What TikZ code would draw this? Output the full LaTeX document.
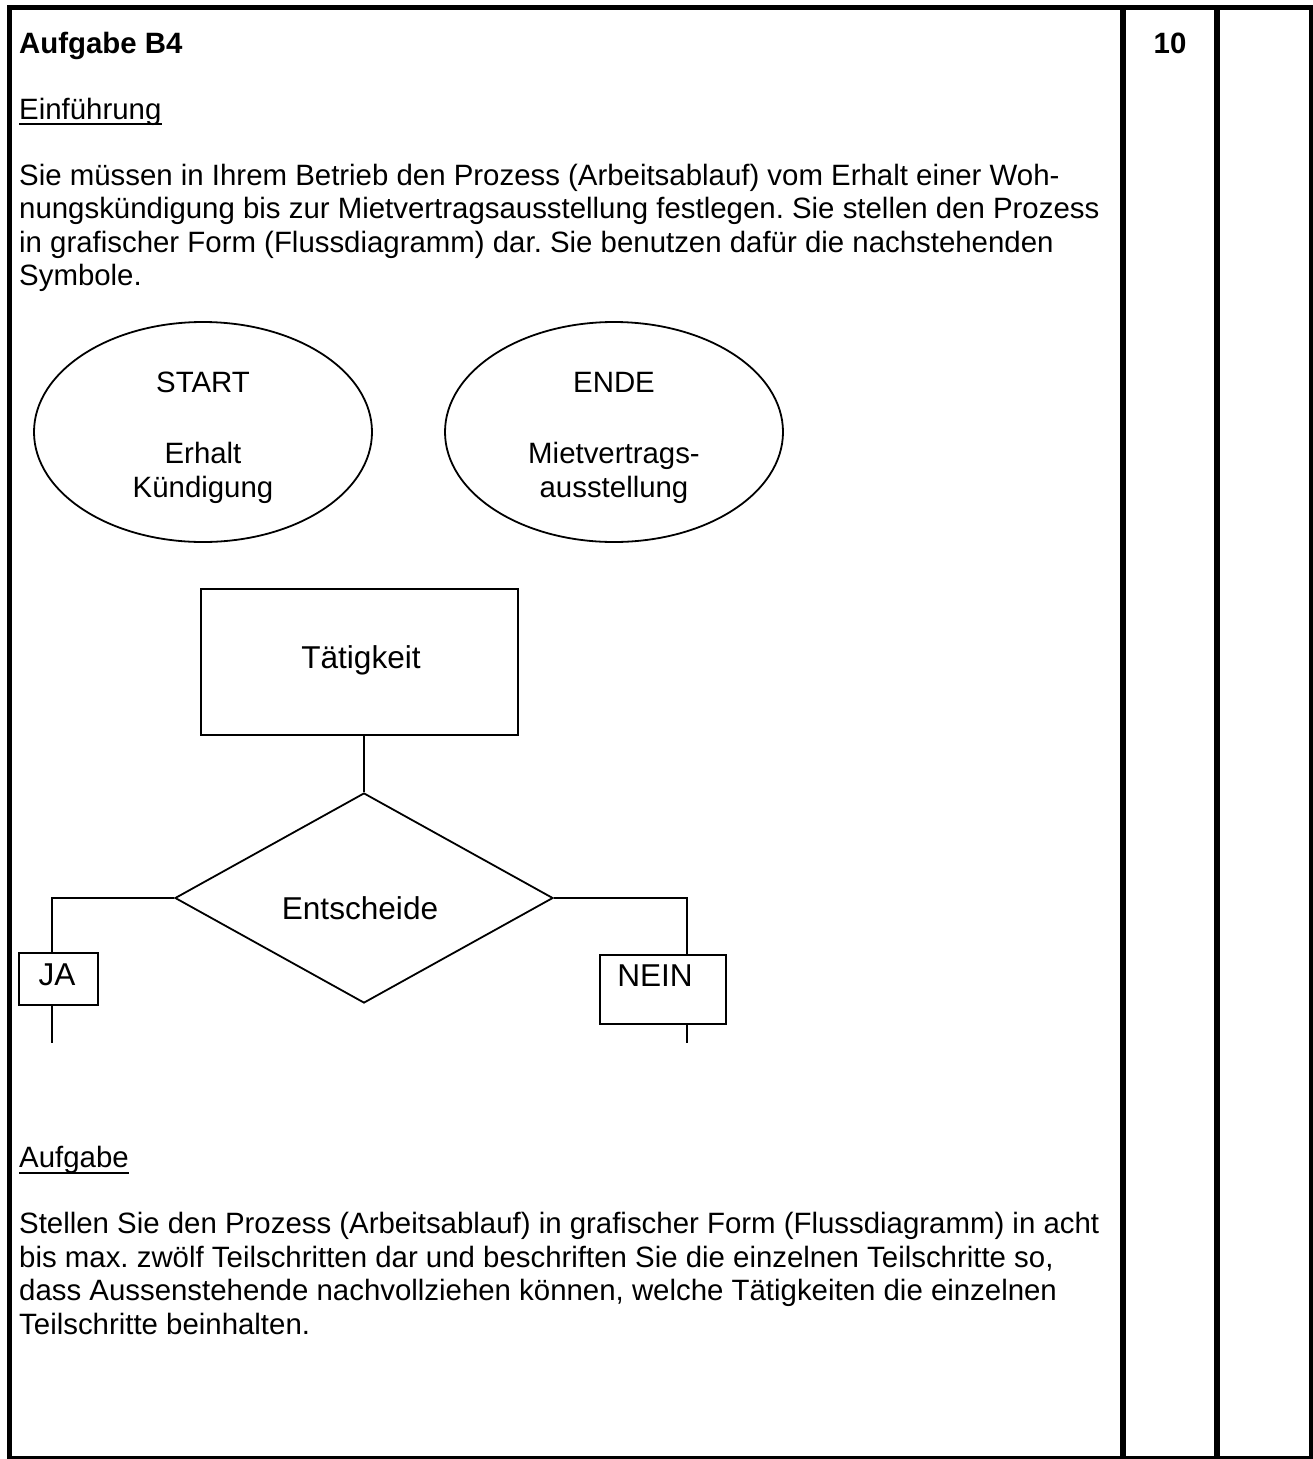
\documentclass[tikz,border=0pt]{standalone}
\usepackage{fontspec}
\setmainfont{Liberation Sans}
\usetikzlibrary{shapes.geometric}
\frenchspacing
\begin{document}
\begin{tikzpicture}[x=1pt,y=-1pt,
  txt/.style={anchor=base west,inner sep=0pt,font=\fontsize{29.4}{33.5}\selectfont},
  ctxt/.style={anchor=base,inner sep=0pt,font=\fontsize{29.4}{33.5}\selectfont},
  btxt/.style={anchor=base,inner sep=0pt,font=\fontsize{31.6}{36}\selectfont},
  bold/.style={txt,font=\fontsize{29.4}{33.5}\selectfont\bfseries},
  shp/.style={draw,line width=1.8pt,inner sep=0pt},
  term/.style={shp,ellipse,minimum width=338pt,minimum height=220pt},
  box/.style={shp,rectangle},
  dec/.style={shp,diamond,minimum width=378pt,minimum height=210pt},
  conn/.style={line width=1.8pt},
  uline/.style={line width=2pt},
  frame/.style={line width=5pt},
  divider/.style={line width=6pt}]
\useasboundingbox (0,0) rectangle (1313,1459);
\fill[white] (0,0) rectangle (1313,1459);

% frame
\draw[frame] (7,7.5) -- (1313,7.5);
\draw[frame] (9.5,5) -- (9.5,1459);
\draw[line width=4pt] (7,1457.5) -- (1313,1457.5);
\draw[frame] (1311,5) -- (1311,1459);
\draw[divider] (1123,5) -- (1123,1459);
\draw[divider] (1217,5) -- (1217,1459);

% header
\node[bold] (title) at (19,53) {Aufgabe B4};
\node[ctxt,font=\fontsize{29.4}{33.5}\selectfont\bfseries] (points) at (1170,53) {10};

\node[txt] (einf) at (19,119) {Einführung};
\draw[uline] ([yshift=-5pt]einf.base west) -- ([yshift=-5pt]einf.base east);

\node[txt] (p1) at (19,185) {Sie müssen in Ihrem Betrieb den Prozess (Arbeitsablauf) vom Erhalt einer Woh-};
\node[txt] (p2) at (19,218) {nungskündigung bis zur Mietvertragsausstellung festlegen. Sie stellen den Prozess};
\node[txt] (p3) at (19,252) {in grafischer Form (Flussdiagramm) dar. Sie benutzen dafür die nachstehenden};
\node[txt] (p4) at (19,285) {Symbole.};

% terminal symbols
\node[term] (start) at (203,432) {};
\node[ctxt] (startA) at (203,392) {START};
\node[ctxt] (startB) at (203,463) {Erhalt};
\node[ctxt] (startC) at (203,497) {Kündigung};

\node[term] (ende) at (614,432) {};
\node[ctxt] (endeA) at (614,392) {ENDE};
\node[ctxt] (endeB) at (614,463) {Mietvertrags-};
\node[ctxt] (endeC) at (614,497) {ausstellung};

% activity
\node[box,minimum width=317pt,minimum height=146pt] (task) at (359.5,662) {};
\node[btxt] (taskT) at (361,668) {Tätigkeit};

% decision
\node[dec] (decide) at (364,898) {};
\node[btxt] (decideT) at (360,919) {Entscheide};
\draw[conn] (task.south -| decide.north) -- (decide.north);

% JA branch
\node[box,minimum width=79pt,minimum height=52pt] (ja) at (58.5,979) {};
\node[btxt] (jaT) at (57,985) {JA};
\coordinate (jaIn) at (52,953);
\coordinate (jaOut) at (52,1043);
\draw[conn] (decide.west) -| (jaIn);
\draw[conn] (ja.south -| jaOut) -- (jaOut);

% NEIN branch
\node[box,minimum width=126pt,minimum height=69pt] (nein) at (663,989.5) {};
\node[btxt] (neinT) at (655,986) {NEIN};
\coordinate (neinIn) at (687,955);
\coordinate (neinOut) at (687,1043);
\draw[conn] (decide.east) -| (neinIn);
\draw[conn] (nein.south -| neinOut) -- (neinOut);

% task
\node[txt] (aufg) at (19,1167) {Aufgabe};
\draw[uline] ([yshift=-6pt]aufg.base west) -- ([yshift=-6pt]aufg.base east);

\node[txt] (q1) at (19,1233) {Stellen Sie den Prozess (Arbeitsablauf) in grafischer Form (Flussdiagramm) in acht};
\node[txt] (q2) at (19,1267) {bis max. zwölf Teilschritten dar und beschriften Sie die einzelnen Teilschritte so,};
\node[txt] (q3) at (19,1300) {dass Aussenstehende nachvollziehen können, welche Tätigkeiten die einzelnen};
\node[txt] (q4) at (19,1334) {Teilschritte beinhalten.};
\end{tikzpicture}
\end{document}
